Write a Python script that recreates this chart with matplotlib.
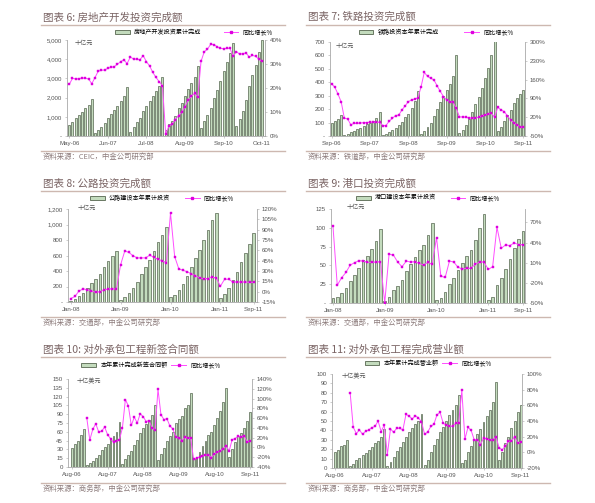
import numpy as np
import matplotlib
matplotlib.use("Agg")
import matplotlib.pyplot as plt
from matplotlib.lines import Line2D
from matplotlib.patches import Patch
from matplotlib.ticker import FuncFormatter

plt.rcParams['font.family'] = ['Liberation Sans', 'Noto Sans CJK SC']

nan = np.nan

# 图表6 房地产 (May-06 .. Oct-11, no January)
re_bars = [550, 750, 920, 1090, 1270, 1470, 1620, 1940,
           170, 330, 490, 700, 930, 1130, 1330, 1570, 1800, 2070, 2530,
           230, 490, 750, 960, 1300, 1560, 1840, 2100, 2360, 2620, 3060,
           330, 600, 800, 1050, 1440, 1700, 2080, 2430, 2740, 3090, 3620,
           410, 770, 1070, 1470, 1970, 2390, 2840, 3370, 3830, 4320, 4830,
           500, 900, 1320, 1870, 2620, 3170, 3720, 4350, 4990]
re_yoy = [21.5, 24, 23.8, 23.8, 24.2, 24, 23.8, 21.8,
          24.3, 27, 27.4, 27.5, 28.2, 28.6, 28.9, 29.9, 31, 31.7, 30.2,
          32.9, 32.1, 32, 31.8, 33.5, 31, 29.2, 26.5, 24.4, 22.6, 20.9,
          1.0, 4.1, 4.9, 6.8, 8.5, 9.9, 12.2, 15.0, 16.5, 17.8, 16.1,
          31.1, 35.1, 36.2, 38.2, 38.1, 37.2, 36.5, 36.4, 36.5, 36.5, 33.2,
          35.2, 34.1, 34.3, 34.6, 32.9, 33.6, 33.2, 32, 31.1]

# 图表7 铁路 (Sep-06 .. Sep-11)
rail_bars = [100, 115, 128, 155,
             8, 18, 28, 38, 50, 62, 72, 88, 100, 112, 135, 178,
             8, 15, 30, 45, 57, 82, 107, 140, 162, 207, 257, 338,
             15, 37, 65, 100, 150, 200, 250, 295, 345, 390, 450, 600,
             25, 45, 80, 130, 180, 235, 290, 360, 430, 510, 605, 705,
             35, 65, 110, 155, 195, 245, 285, 315, 345]
rail_yoy = [144, 132, 106, 77,
            16, 14, -8, -3, -3, -2, 0, 0, 1, 1, 1, 1,
            -11, -11, 5, 16, 26, 28, 47, 62, 78, 84, 88, 91,
            134, 187, 172, 165, 159, 137, 116, 97, 84, 78, 76, 53,
            21, 21, 20, 17, 16, 16, 20, 25, 28, 31, 35, 20,
            57, 47, 41, 25, 10, 0, -9, -16, -18]

# 图表8 公路 (Jan-08 .. Sep-11)
hw_bars = [17, 39, 73, 120, 180, 245, 300, 365, 450, 525, 600, 660,
           30, 60, 116, 180, 262, 365, 455, 546, 662, 770, 869, 968,
           60, 86, 159, 232, 340, 447, 568, 675, 796, 933, 1054, 1150,
           52, 107, 180, 290, 383, 516, 632, 753, 890]
hw_yoy = [-10, -7, 1, 4, 3, 1, -1, 0, 2, 4, 4, 4,
          39, 59, 57, 52, 49, 49, 49, 53, 50, 47, 45, 42,
          114, 51, 33, 31, 29, 26, 23, 20, 19, 19, 21, 20,
          8, 18, 18, 14, 14, 14, 14, 13.5, 13.5]

# 图表9 港口 (Jan-08 .. Sep-11)
port_bars = [6, 8, 13, 20, 29, 37, 47, 57, 63, 72, 82, 98,
             3, 8, 17, 22, 30, 42, 52, 61, 70, 77, 90, 106,
             4, 7, 15, 25, 33, 44, 53, 62, 70, 84, 100, 118,
             4, 8, 24, 33, 45, 58, 73, 85, 96]
port_yoy = [65, -23.5, -12.5, -4.5, 6.5, 10, 13, 12.5, 10.5, 10.5, 11, 11.5,
            -49.5, 22.5, 21.5, 11, 4, 12.5, 11, 11.5, 9, 6.5, 10.5, 8,
            47.5, -10, -12, 12.5, 11, 3, 1, 1.5, 1.5, 8, 11, 11,
            0, 4, 63, 31.5, 36.5, 35.5, 39.5, 37, 37]

# 图表10 新签合同额 (Aug-06 .. Dec-10, Feb-11 .. Sep-11)
ct_bars = [32, 40, 45, 54, 65,
           3, 7, 10, 16, 21, 29, 34, 40, 47, 52, 60, 77,
           5, 13, 20, 28, 37, 46, 58, 66, 74, 80, 88, 105,
           12, 23, 33, 44, 52, 60, 75, 82, 87, 100, 106, 126,
           13, 17, 26, 35, 45, 55, 60, 72, 83, 96, 110, 134,
           17, 30, 43, 52, 58, 66, 78, 93]
ct_yoy = [nan, nan, nan, nan, nan,
          59.5, 15, 37, 48.5, 32, 33, 42, 26, 18, 11, 12.5, 16,
          40, 98, 85, 45, 62, 50, 69, 63, 53, 55, 40, 35,
          119, 67, 57, 59, 44, 38, 21, 19, 13, 21, 19, 19,
          -23, -22, -20, -18, -16, -15, -21, -13, -10, -7, -3, 3,
          -7, 16, 18, 23, 21, 24, 12, 13]

# 图表11 完成营业额 (Aug-06 .. Dec-10, Feb-11 .. Sep-11)
to_bars = [17, 19, 23, 24, 30,
           2, 4.5, 8, 10.6, 13.5, 16, 19, 22, 27, 29, 33, 41,
           2, 6, 12, 18, 22, 28, 33, 38, 43, 47, 50, 57,
           3, 9, 17, 24, 31, 38, 44, 50, 56, 62, 67, 78,
           5, 9, 17, 23, 30, 36, 42, 49, 55, 62, 70, 92,
           9, 17, 27, 33, 43, 50, 60, 67]
to_yoy = [nan, nan, nan, nan, nan,
          76, 32, 24, 28.6, 23, 27, 28.6, 31.6, 33, 40, 26.5, 35,
          -3, 30, 25.6, 30.7, 30.7, 28.6, 48.5, 46.3, 42.5, 46.8, 44, 39,
          23, 26, 33, 36, 48, 51, 37, 35, 34, 33, 37, 38,
          79, 17, 32, 28, 16, 16, 10, 18, 17, 16, 16, 20,
          6, 3, 8, 14, 14, 20, 12, 13]

W, H = 595, 503
fig = plt.figure(figsize=(W / 100, H / 100), dpi=100)

BAR_FACE = '#c3dbbd'
BAR_EDGE = '#56664f'
LINE_C = '#ff4dff'
MARK_C = '#dd00dd'
TITLE_C = '#7a6464'
RULE_C = '#cdb8b0'
AXIS_C = '#a8a8a8'
TEXT_C = '#555555'
SRC_C = '#8c7b7b'
CJK = ['Noto Sans CJK SC', 'DejaVu Sans']
TICK_FS = 4.4


def fx(x):
    return x / W


def fy(y):
    return 1 - y / H


def hline(x0, x1, y):
    fig.add_artist(Line2D([fx(x0), fx(x1)], [fy(y), fy(y)], color=RULE_C,
                          lw=1.0, transform=fig.transFigure))


def dash_zero(v, pos):
    if abs(v) < 1e-9:
        return '-'
    return '{:,.0f}'.format(v)


def plain(v, pos):
    return '{:.0f}'.format(v)


def pct(v, pos):
    return '{:.0f}%'.format(v)


def panel(box, bars, yoy, xlim, ylim, yticks, ylim2, yticks2, left_fmt,
          xt_idx, xt_lab, title, title_xy, rule_x, rule_y, source,
          names, leg_xy, colsp, unit, unit_xy):
    l, t, r, b = box
    ax = fig.add_axes([fx(l), fy(b), (r - l) / W, (b - t) / H])
    ax2 = ax.twinx()
    x = np.arange(len(bars))
    ax.bar(x, bars, width=0.62, color=BAR_FACE, edgecolor=BAR_EDGE, linewidth=0.5)
    ax2.plot(x, yoy, color=LINE_C, lw=0.7, marker='s', ms=2.0,
             mfc=MARK_C, mec=MARK_C, mew=0.3)

    ax.set_xlim(*xlim)
    ax.set_ylim(*ylim)
    ax2.set_ylim(*ylim2)
    ax.set_yticks(yticks)
    ax2.set_yticks(yticks2)
    ax.yaxis.set_major_formatter(FuncFormatter(left_fmt))
    ax2.yaxis.set_major_formatter(FuncFormatter(pct))
    ax.set_xticks(xt_idx)
    ax.set_xticklabels(xt_lab)

    for a in (ax, ax2):
        a.tick_params(labelsize=TICK_FS, colors=TEXT_C, length=1.5, width=0.4, pad=2)
        a.tick_params(axis='both', color=AXIS_C)
        a.spines['top'].set_visible(False)
        for s in a.spines.values():
            s.set_color(AXIS_C)
            s.set_linewidth(0.6)
    ax.spines['right'].set_visible(False)
    ax2.spines['left'].set_visible(False)
    ax2.spines['bottom'].set_visible(False)
    ax.set_facecolor('none')

    fig.text(fx(title_xy[0]), fy(title_xy[1]), title, fontsize=7.6, color=TITLE_C,
             family=CJK, style='italic', va='center', ha='left')
    hline(rule_x[0], rule_x[1], rule_y[0])
    hline(rule_x[0], rule_x[1], rule_y[1])
    fig.text(fx(title_xy[0]), fy(rule_y[1] + 6), source, fontsize=5.3, color=SRC_C,
             family=CJK, style='italic', va='center', ha='left')
    fig.text(fx(unit_xy[0]), fy(unit_xy[1]), unit, fontsize=TICK_FS, color=TEXT_C,
             family=CJK, va='center', ha='left')

    handles = [Patch(facecolor=BAR_FACE, edgecolor=BAR_EDGE, lw=0.6),
               Line2D([], [], color=LINE_C, lw=0.7, marker='s', ms=2.0,
                      mfc=MARK_C, mec=MARK_C)]
    fig.legend(handles, names, loc='center', bbox_to_anchor=(fx(leg_xy[0]), fy(leg_xy[1])),
               ncol=2, frameon=False, prop={'family': CJK, 'size': TICK_FS},
               handlelength=2.4, handleheight=0.6, columnspacing=colsp,
               handletextpad=0.7, borderpad=0, borderaxespad=0)
    return ax, ax2


panel((67, 40, 265, 136), re_bars, re_yoy, (-0.7, 60.9),
      (0, 5000), range(0, 5001, 1000), (0, 40), range(0, 41, 10), dash_zero,
      [0, 12, 24, 36, 48, 60], ['May-06', 'Jun-07', 'Jul-08', 'Aug-09', 'Sep-10', 'Oct-11'],
      '图表 6: 房地产开发投资完成额', (43, 18), (41, 285), (25, 151),
      '资料来源：CEIC，中金公司研究部',
      ['房地产开发投资累计完成', '同比增长%'], (194, 32), 3.6, '十亿元', (75, 43))

panel((330, 42, 525, 136), rail_bars, rail_yoy, (-0.5, 60.5),
      (0, 700), range(0, 701, 100), (-50, 300), range(-50, 301, 70), dash_zero,
      [0, 12, 24, 36, 48, 60], ['Sep-06', 'Sep-07', 'Sep-08', 'Sep-09', 'Sep-10', 'Sep-11'],
      '图表 7: 铁路投资完成额', (308, 17), (306, 550), (25, 151),
      '资料来源：铁道部，中金公司研究部',
      ['铁路投资本年累计完成', '同比增长%'], (436, 32), 4.2, '十亿元', (336, 46))

panel((68, 209, 257, 302), hw_bars, hw_yoy, (-0.65, 44.8),
      (0, 1200), range(0, 1201, 200), (-15, 120), range(-15, 121, 15), dash_zero,
      [0, 12, 24, 36, 44], ['Jan-08', 'Jan-09', 'Jan-10', 'Jan-11', 'Sep-11'],
      '图表 8: 公路投资完成额', (43, 184), (41, 285), (191, 317),
      '资料来源：交通部，中金公司研究部',
      ['公路建设本年累计投资', '同比增长%'], (162, 198), 2.4, '十亿元', (78, 208))

panel((331, 209, 525, 303), port_bars, port_yoy, (-0.45, 44.5),
      (0, 125), range(0, 126, 25), (-50, 90), range(-50, 71, 30), dash_zero,
      [0, 12, 24, 36, 44], ['Jan-08', 'Jan-09', 'Jan-10', 'Jan-11', 'Sep-11'],
      '图表 9: 港口投资完成额', (308, 184), (306, 550), (191, 317),
      '资料来源：交通部，中金公司研究部',
      ['港口建设本年累计投资', '同比增长%'], (428, 198), 2.3, '十亿元', (347, 207))

panel((68, 379, 252, 467), ct_bars, ct_yoy, (-1.35, 60.7),
      (0, 150), range(0, 151, 15), (-40, 140), range(-40, 141, 20), plain,
      [0, 12, 24, 36, 48, 60], ['Aug-06', 'Aug-07', 'Aug-08', 'Aug-09', 'Aug-10', 'Sep-11'],
      '图表 10: 对外承包工程新签合同额', (43, 350), (41, 285), (357, 483),
      '资料来源：商务部，中金公司研究部',
      ['本年累计完成新签合同额', '同比增长%'], (151, 365), 0.6, '十亿美元', (77, 381))

panel((332, 374, 522, 468), to_bars, to_yoy, (-0.85, 60.4),
      (0, 100), range(0, 101, 10), (-20, 100), range(-20, 101, 20), plain,
      [0, 12, 24, 36, 48, 60], ['Aug-06', 'Aug-07', 'Aug-08', 'Aug-09', 'Aug-10', 'Sep-11'],
      '图表 11: 对外承包工程完成营业额', (308, 350), (306, 550), (357, 483),
      '资料来源：商务部，中金公司研究部',
      ['本年累计完成营业额', '同比增长%'], (428, 363), 0.6, '十亿美元', (342, 376))

fig.savefig('out.png', dpi=100)
